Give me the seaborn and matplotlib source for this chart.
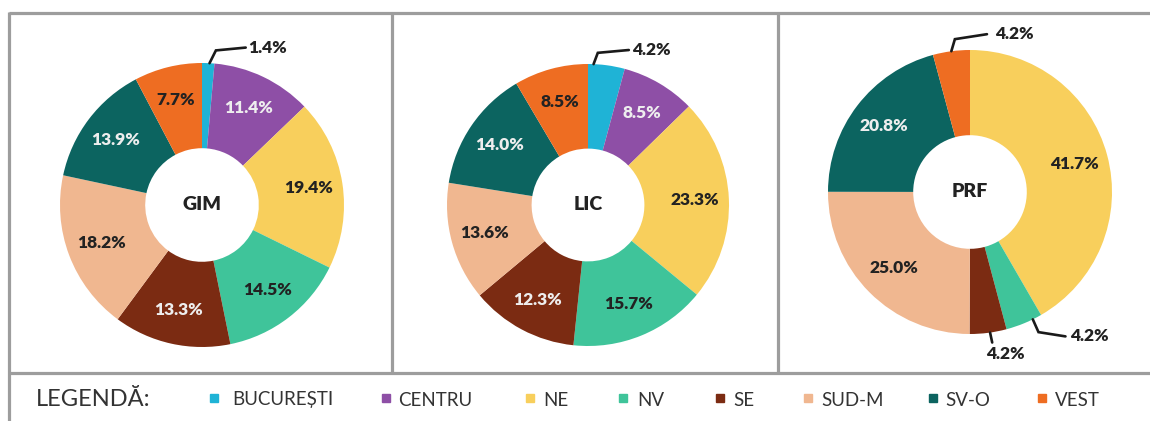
import numpy as np
import matplotlib
matplotlib.use("Agg")
import matplotlib.pyplot as plt
import seaborn as sns

# ---------------- data ----------------
regions = ["BUCUREȘTI", "CENTRU", "NE", "NV", "SE", "SUD-M", "SV-O", "VEST"]
gim = [1.4, 11.4, 19.4, 14.5, 13.3, 18.2, 13.9, 7.7]
lic = [4.2, 8.5, 23.3, 15.7, 12.3, 13.6, 14.0, 8.5]
prf = [0.0, 0.0, 41.7, 4.2, 4.2, 25.0, 20.8, 4.2]
panel_titles = ["GIM", "LIC", "PRF"]
legend_title = "LEGENDĂ:"

region_colors = ["#1fb3d6", "#8e4fa6", "#f8cf5c", "#3fc49a",
                 "#7b2b12", "#f0b790", "#0c6460", "#ee6d22"]
light_text_regions = {"CENTRU", "SE", "SV-O"}

# ---------------- style / layout ----------------
sns.set_theme(style="white")
plt.rcParams["font.family"] = ["Lato", "DejaVu Sans"]
palette = sns.color_palette(region_colors)

W, H = 1150, 421
fig = plt.figure(figsize=(W / 100, H / 100), dpi=100)
fig.patch.set_facecolor("white")

# background axes in pixel coordinates (frame lines, legend)
bg = fig.add_axes([0, 0, 1, 1])
bg.set_xlim(0, W)
bg.set_ylim(H, 0)
bg.axis("off")

frame_col = "#9d9d9d"
flw = 2.3
bg.plot([9, W], [13, 13], color=frame_col, lw=flw, solid_capstyle="butt")
bg.plot([9, 9], [12, H], color=frame_col, lw=flw, solid_capstyle="butt")
bg.plot([9, W], [373, 373], color=frame_col, lw=flw, solid_capstyle="butt")
for xs in (392, 778):
    bg.plot([xs, xs], [13, 373], color=frame_col, lw=flw, solid_capstyle="butt")

# donut placement (pixel centre x, centre y, radius)
panel_geom = [(202, 205, 142), (588, 205, 141), (970, 192, 142)]

# callouts for small slices: (panel, region) -> layout
callouts = {
    (0, "BUCUREȘTI"): dict(frac=0.4, elbow=(0.045, 0.09), end=(0.21, 0.02),
                           text=(0.02, 0.0), ha="left", va="center"),
    (1, "BUCUREȘTI"): dict(frac=0.85, elbow=(0.03, 0.08), end=(0.22, 0.02),
                           text=(0.025, 0.0), ha="left", va="center"),
    (2, "VEST"): dict(frac=0.5, elbow=(0.025, 0.085), end=(0.226, 0.035),
                      text=(0.06, 0.0), ha="left", va="center"),
    (2, "NV"): dict(frac=0.75, elbow=(0.04, -0.09), end=(0.19, -0.03),
                    text=(0.035, 0.0), ha="left", va="center"),
    (2, "SE"): dict(frac=0.55, elbow=(0.015, -0.07), end=(0.0, 0.0),
                    text=(0.095, -0.08), ha="center", va="center"),
}

datasets = [gim, lic, prf]
label_r = 0.76
lbl_size = 12.5
lbl_weight = "heavy"
for p, (vals, title) in enumerate(zip(datasets, panel_titles)):
    cx, cy, r = panel_geom[p]
    ax = fig.add_axes([(cx - r) / W, 1 - (cy + r) / H, 2 * r / W, 2 * r / H])
    wedges, _ = ax.pie(vals, colors=palette, startangle=90, counterclock=False,
                       radius=1.0, wedgeprops=dict(width=0.6, linewidth=0),
                       normalize=True)
    ax.set_xlim(-1, 1)
    ax.set_ylim(-1, 1)
    ax.set_aspect("equal")
    ax.axis("off")
    ax.text(0, 0, title, ha="center", va="center", fontsize=14,
            fontweight=lbl_weight, color="#222222")
    for w, reg, v in zip(wedges, regions, vals):
        if v <= 0:
            continue
        lab = f"{v:.1f}%"
        key = (p, reg)
        if key in callouts:
            c = callouts[key]
            ang = np.deg2rad(w.theta1 + c["frac"] * (w.theta2 - w.theta1))
            a = np.array([np.cos(ang), np.sin(ang)])
            e = a + np.array(c["elbow"])
            n = e + np.array(c["end"])
            t = n + np.array(c["text"])
            ax.plot([a[0], e[0], n[0]], [a[1], e[1], n[1]], color="#1a1a1a",
                    lw=1.9, clip_on=False, solid_joinstyle="miter")
            ax.text(t[0], t[1], lab, ha=c["ha"], va=c["va"], fontsize=lbl_size,
                    fontweight=lbl_weight, color="#222222", clip_on=False)
        else:
            ang = np.deg2rad((w.theta1 + w.theta2) / 2)
            col = "#eeeeee" if reg in light_text_regions else "#222222"
            ax.text(label_r * np.cos(ang), label_r * np.sin(ang), lab,
                    ha="center", va="center", fontsize=lbl_size,
                    fontweight=lbl_weight, color=col)

# ---------------- legend ----------------
legend_marker_x = [214, 386, 530, 623, 720, 808, 933, 1042]
legend_text_x = [232, 398, 543, 637, 733, 821, 945, 1055]
ly = 400
bg.text(36, ly, legend_title, ha="left", va="center", fontsize=17,
        color="#333333")
for mx, tx, reg, colr in zip(legend_marker_x, legend_text_x, regions, palette):
    bg.plot([mx], [ly - 2], marker="s", markersize=5.8, color=colr,
            linestyle="none")
    bg.text(tx, ly, reg, ha="left", va="center", fontsize=13.5,
            color="#333333")

fig.savefig("out.png", dpi=100, facecolor="white")
